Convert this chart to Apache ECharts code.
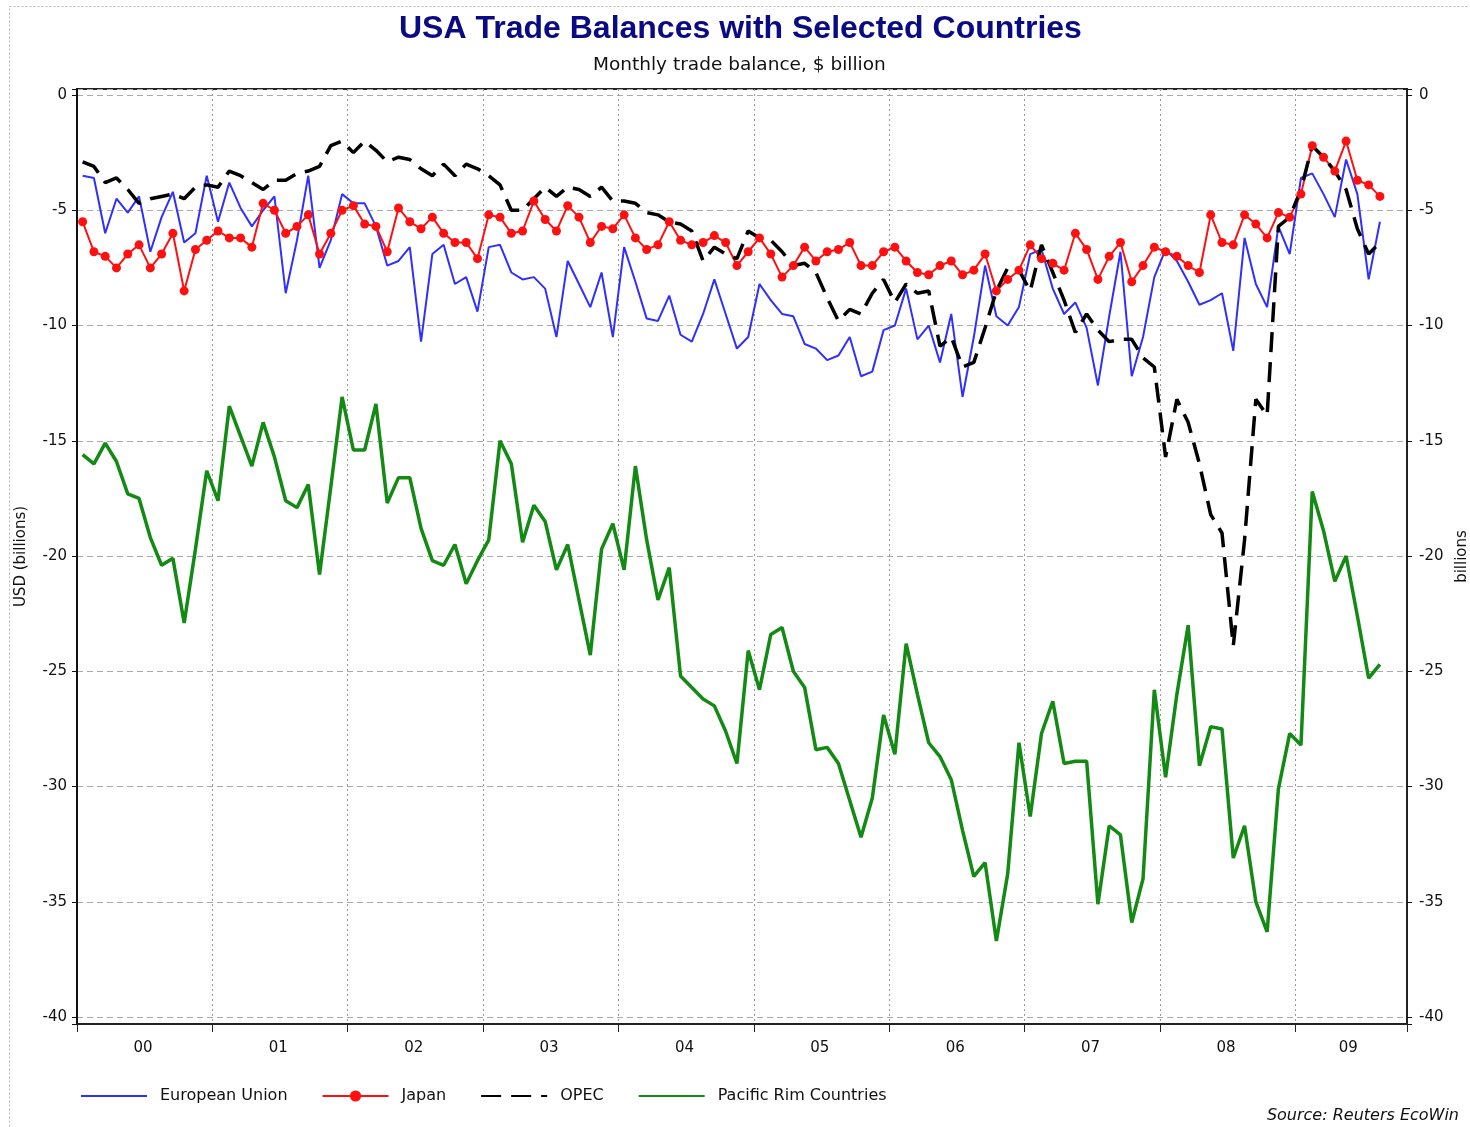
<!DOCTYPE html>
<html>
<head>
<meta charset="utf-8">
<title>USA Trade Balances with Selected Countries</title>
<script src="https://cdn.jsdelivr.net/npm/echarts@6/dist/echarts.min.js"></script>
<style>
  html, body { margin: 0; padding: 0; background: #fff; }
  #chart { width: 1470px; height: 1127px; }
</style>
</head>
<body>
<div id="chart"></div>
<script>
// monthly data, Jan 2000 .. Aug 2009, $ billion
var yearLabels = ['00', '01', '02', '03', '04', '05', '06', '07', '08', '09'];

var euData = [
  -3.5, -3.6, -6.0, -4.5, -5.1, -4.4, -6.8, -5.3, -4.2, -6.4, -6.0, -3.5,
  -5.5, -3.8, -4.9, -5.7, -5.0, -4.4, -8.6, -6.3, -3.5, -7.5, -6.3, -4.3,
  -4.7, -4.7, -5.7, -7.4, -7.2, -6.6, -10.7, -6.9, -6.5, -8.2, -7.9, -9.4,
  -6.6, -6.5, -7.7, -8.0, -7.9, -8.4, -10.5, -7.2, -8.2, -9.2, -7.7, -10.5,
  -6.6, -8.1, -9.7, -9.8, -8.7, -10.4, -10.7, -9.5, -8.0, -9.5, -11.0, -10.5,
  -8.2, -8.9, -9.5, -9.6, -10.8, -11.0, -11.5, -11.3, -10.5, -12.2, -12.0, -10.2,
  -10.0, -8.4, -10.6, -10.0, -11.6, -9.5, -13.1, -10.5, -7.4, -9.6, -10.0, -9.2,
  -6.9, -6.7, -8.4, -9.5, -9.0, -10.1, -12.6, -9.6, -6.8, -12.2, -10.5, -7.9,
  -6.7, -7.2, -8.1, -9.1, -8.9, -8.6, -11.1, -6.2, -8.2, -9.2, -5.7, -6.9,
  -3.6, -3.4, -4.3, -5.3, -2.8, -4.3, -8.0, -5.5
];

var japanData = [
  -5.5, -6.8, -7.0, -7.5, -6.9, -6.5, -7.5, -6.9, -6.0, -8.5, -6.7, -6.3,
  -5.9, -6.2, -6.2, -6.6, -4.7, -5.0, -6.0, -5.7, -5.2, -6.9, -6.0, -5.0,
  -4.8, -5.6, -5.7, -6.8, -4.9, -5.5, -5.8, -5.3, -6.0, -6.4, -6.4, -7.1,
  -5.2, -5.3, -6.0, -5.9, -4.6, -5.4, -5.9, -4.8, -5.3, -6.4, -5.7, -5.8,
  -5.2, -6.2, -6.7, -6.5, -5.5, -6.3, -6.5, -6.4, -6.1, -6.4, -7.4, -6.8,
  -6.2, -6.9, -7.9, -7.4, -6.6, -7.2, -6.8, -6.7, -6.4, -7.4, -7.4, -6.8,
  -6.6, -7.2, -7.7, -7.8, -7.4, -7.2, -7.8, -7.6, -6.9, -8.5, -8.0, -7.6,
  -6.5, -7.1, -7.3, -7.6, -6.0, -6.7, -8.0, -7.0, -6.4, -8.1, -7.4, -6.6,
  -6.8, -7.0, -7.4, -7.7, -5.2, -6.4, -6.5, -5.2, -5.6, -6.2, -5.1, -5.3,
  -4.3, -2.2, -2.7, -3.3, -2.0, -3.7, -3.9, -4.4
];

var opecData = [
  -2.9, -3.1, -3.8, -3.6, -4.1, -4.7, -4.5, -4.4, -4.3, -4.5, -4.0, -3.9,
  -4.0, -3.3, -3.5, -3.8, -4.1, -3.7, -3.7, -3.4, -3.3, -3.1, -2.2, -2.0,
  -2.5, -2.0, -2.4, -2.9, -2.7, -2.8, -3.2, -3.5, -3.0, -3.5, -3.0, -3.2,
  -3.5, -3.9, -5.0, -5.0, -4.5, -4.0, -4.4, -4.0, -4.1, -4.4, -4.0, -4.6,
  -4.6, -4.7, -5.1, -5.2, -5.5, -5.6, -5.9, -7.2, -6.6, -6.9, -7.1, -5.9,
  -6.2, -6.3, -6.8, -7.4, -7.3, -7.7, -8.8, -9.8, -9.3, -9.5, -8.6, -8.0,
  -9.0, -8.2, -8.6, -8.5, -10.9, -10.5, -11.8, -11.6, -10.1, -8.5, -7.5, -7.6,
  -8.5, -6.5, -7.7, -8.9, -10.3, -9.5, -10.2, -10.7, -10.6, -10.6, -11.4, -11.8,
  -15.7, -13.2, -14.2, -16.0, -18.2, -19.0, -23.9, -19.3, -13.2, -13.9, -5.7, -5.3,
  -4.1, -2.2, -2.7, -3.3, -4.1, -5.8, -6.9, -6.4
];

var pacRimData = [
  -15.6, -16.0, -15.1, -15.9, -17.3, -17.5, -19.2, -20.4, -20.1, -22.9, -19.7, -16.3,
  -17.6, -13.5, -14.8, -16.1, -14.2, -15.7, -17.6, -17.9, -16.9, -20.8, -17.0, -13.1,
  -15.4, -15.4, -13.4, -17.7, -16.6, -16.6, -18.8, -20.2, -20.4, -19.5, -21.2, -20.2,
  -19.3, -15.0, -16.0, -19.4, -17.8, -18.5, -20.6, -19.5, -21.9, -24.3, -19.7, -18.6,
  -20.6, -16.1, -19.3, -21.9, -20.5, -25.2, -25.7, -26.2, -26.5, -27.6, -29.0, -24.1,
  -25.8, -23.4, -23.1, -25.0, -25.7, -28.4, -28.3, -29.0, -30.6, -32.2, -30.5, -26.9,
  -28.6, -23.8, -26.0, -28.1, -28.7, -29.7, -31.9, -33.9, -33.3, -36.7, -33.8, -28.1,
  -31.3, -27.7, -26.3, -29.0, -28.9, -28.9, -35.1, -31.7, -32.1, -35.9, -34.0, -25.8,
  -29.6, -26.0, -23.0, -29.1, -27.4, -27.5, -33.1, -31.7, -35.0, -36.3, -30.1, -27.7,
  -28.2, -17.2, -18.9, -21.1, -20.0, -22.6, -25.3, -24.7
];

// month index -> x value in the middle of that month
function toPoints(arr) {
  return arr.map(function (v, i) { return [i + 0.5, v]; });
}

var labelFont = 'DejaVu Sans';

function yLabel(v) {
  var r = Math.round(v / 5) * 5;
  return Math.abs(v - r) < 1e-6 ? String(r) : '';
}

var chart = echarts.init(document.getElementById('chart'));

chart.setOption({
  backgroundColor: '#fff',
  animation: false,
  title: [
    {
      text: 'USA Trade Balances with Selected Countries',
      left: 394,
      top: 8,
      textStyle: { fontFamily: 'Liberation Sans', fontSize: 32, fontWeight: 'bold', color: '#0a0a84' }
    },
    {
      text: 'Monthly trade balance, $ billion',
      left: 588,
      top: 51,
      textStyle: { fontFamily: labelFont, fontSize: 18.5, fontWeight: 'normal', color: '#111' }
    },
    {
      text: 'Source: Reuters EcoWin',
      right: 6,
      top: 1103,
      textStyle: { fontFamily: labelFont, fontSize: 16, fontWeight: 'normal', fontStyle: 'italic', color: '#111' }
    }
  ],
  graphic: [
    {
      type: 'rect',
      shape: { x: 9.5, y: 6.5, width: 1600, height: 1300 },
      style: { fill: 'none', stroke: '#bbb', lineWidth: 1, lineDash: [2, 2] },
      silent: true
    }
  ],
  legend: {
    left: 75,
    top: 1083,
    itemWidth: 66,
    itemHeight: 14,
    itemGap: 34,
    textStyle: { fontFamily: labelFont, fontSize: 16, color: '#111', padding: [0, 0, 0, 8] },
    data: [
      { name: 'European Union', itemStyle: { opacity: 0 } },
      { name: 'Japan' },
      { name: 'OPEC', itemStyle: { opacity: 0 } },
      { name: 'Pacific Rim Countries', itemStyle: { opacity: 0 } }
    ]
  },
  grid: {
    left: 77,
    right: 63,
    top: 89,
    bottom: 103,
    outerBoundsMode: 'none',
    containLabel: false,
    show: true,
    borderColor: '#222',
    borderWidth: 2
  },
  xAxis: {
    type: 'value',
    min: 0,
    max: 117.9,
    interval: 12,
    axisLine: { show: true, onZero: false, lineStyle: { color: '#222', width: 2 } },
    axisTick: { show: true, length: 8, lineStyle: { color: '#222', width: 1 } },
    splitLine: { show: true, lineStyle: { color: '#999', width: 1, type: [2, 3] } },
    axisLabel: {
      margin: 17,
      formatter: function (v) {
        var k = Math.round(v / 12);
        if (Math.abs(v - k * 12) > 1e-6 || !yearLabels[k]) return '';
        return (k === yearLabels.length - 1 ? '{last|' : '{yr|') + yearLabels[k] + '}';
      },
      rich: {
        yr: { fontFamily: labelFont, fontSize: 15, color: '#111', padding: [0, 0, 0, 132] },
        last: { fontFamily: labelFont, fontSize: 15, color: '#111', padding: [0, 0, 0, 106] }
      }
    }
  },
  yAxis: [
    {
      type: 'value',
      position: 'left',
      min: -40.3,
      max: 0.26,
      splitNumber: 8,
      name: 'USD (billions)',
      nameLocation: 'middle',
      nameRotate: 90,
      nameGap: 48,
      nameTextStyle: { fontFamily: labelFont, fontSize: 15, color: '#111' },
      axisLine: { show: true, lineStyle: { color: '#111', width: 2 } },
      axisTick: { show: true, length: 5, lineStyle: { color: '#111' } },
      axisLabel: { margin: 10, fontFamily: labelFont, fontSize: 15, color: '#111', formatter: yLabel },
      splitLine: { show: true, lineStyle: { color: '#aaa', width: 1, type: [6, 4] } }
    },
    {
      type: 'value',
      position: 'right',
      min: -40.3,
      max: 0.26,
      splitNumber: 8,
      name: 'billions',
      nameLocation: 'middle',
      nameRotate: 90,
      nameGap: 44,
      nameTextStyle: { fontFamily: labelFont, fontSize: 15, color: '#111' },
      axisLine: { show: true, lineStyle: { color: '#222', width: 2 } },
      axisTick: { show: true, length: 5, lineStyle: { color: '#111' } },
      axisLabel: { margin: 12, fontFamily: labelFont, fontSize: 15, color: '#111', formatter: yLabel },
      splitLine: { show: false }
    }
  ],
  series: [
    {
      name: 'European Union',
      type: 'line',
      data: toPoints(euData),
      symbol: 'none',
      color: '#2f2fff',
      lineStyle: { color: '#2f2fff', width: 2 }
    },
    {
      name: 'Japan',
      type: 'line',
      data: toPoints(japanData),
      symbol: 'circle',
      symbolSize: 9,
      color: '#ff1010',
      itemStyle: { color: '#ff1010' },
      lineStyle: { color: '#ff1010', width: 2 }
    },
    {
      name: 'OPEC',
      type: 'line',
      data: toPoints(opecData),
      symbol: 'none',
      color: '#000',
      lineStyle: { color: '#000', width: 3.5, type: [20, 10] }
    },
    {
      name: 'Pacific Rim Countries',
      type: 'line',
      data: toPoints(pacRimData),
      symbol: 'none',
      color: '#138a13',
      lineStyle: { color: '#138a13', width: 3.5 }
    }
  ]
});
</script>
</body>
</html>
